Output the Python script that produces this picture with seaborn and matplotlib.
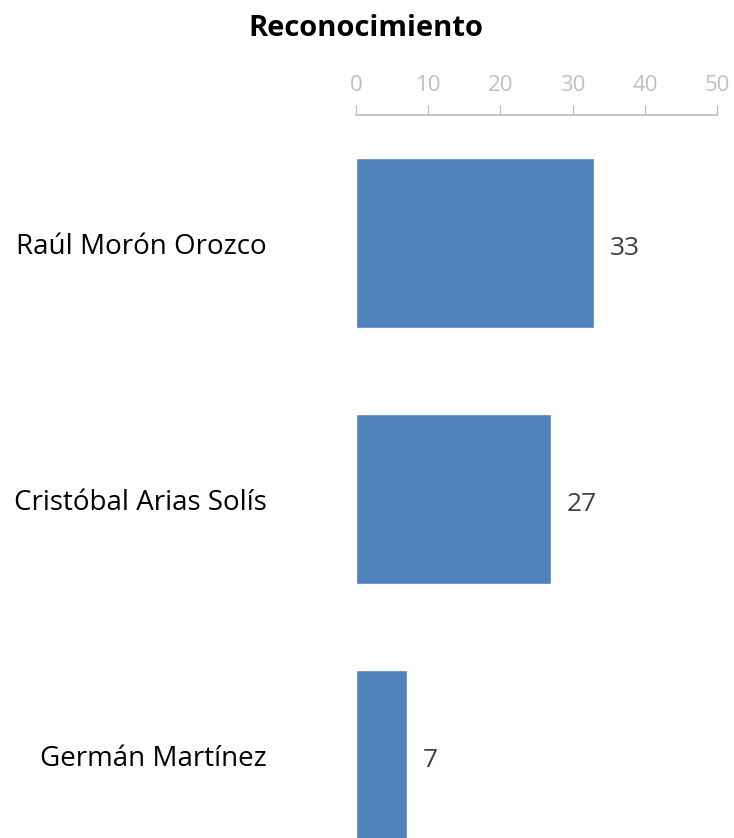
import matplotlib
matplotlib.use("Agg")
import matplotlib.pyplot as plt
import seaborn as sns
import pandas as pd

nombres = ["Raúl Morón Orozco", "Cristóbal Arias Solís", "Germán Martínez"]
valores = [33, 27, 7]
ticks = [0, 10, 20, 30, 40, 50]

df = pd.DataFrame({"nombre": nombres, "valor": valores})

sns.set_theme(style="white")
plt.rcParams["font.family"] = ["Open Sans", "DejaVu Sans"]

W, H = 734, 838
fig = plt.figure(figsize=(W / 100, H / 100), dpi=100)
ax = fig.add_axes([356 / W, 0, (717 - 356) / W, 1 - 115 / H])

sns.barplot(data=df, x="valor", y="nombre", orient="h", color="#4F81BD",
            saturation=1, width=0.664, ax=ax)

ax.set_xlim(0, 50)
ax.set_ylim(-0.5 + (H - 115) / 256, -0.5)
ax.xaxis.tick_top()
ax.set_xticks(ticks)
ax.tick_params(axis="x", colors="#BFBFBF", labelcolor="#BFBFBF", labelsize=16,
               length=7, width=1, direction="out", pad=7, top=True, bottom=False)
ax.tick_params(axis="y", length=0, labelsize=20, labelcolor="#000000", pad=64)
for s in ["bottom", "left", "right"]:
    ax.spines[s].set_visible(False)
ax.spines["top"].set_color("#BFBFBF")
ax.set_xlabel("")
ax.set_ylabel("")

for i, v in enumerate(valores):
    ax.text(v + 2.2, i + 0.02, str(v), va="center", ha="left", fontsize=19, color="#404040")

fig.text(366 / W, 1 - 28 / H, "Reconocimiento", ha="center", va="center",
         fontsize=21, fontweight="bold", color="#000000")

fig.savefig("out.png", dpi=100)
